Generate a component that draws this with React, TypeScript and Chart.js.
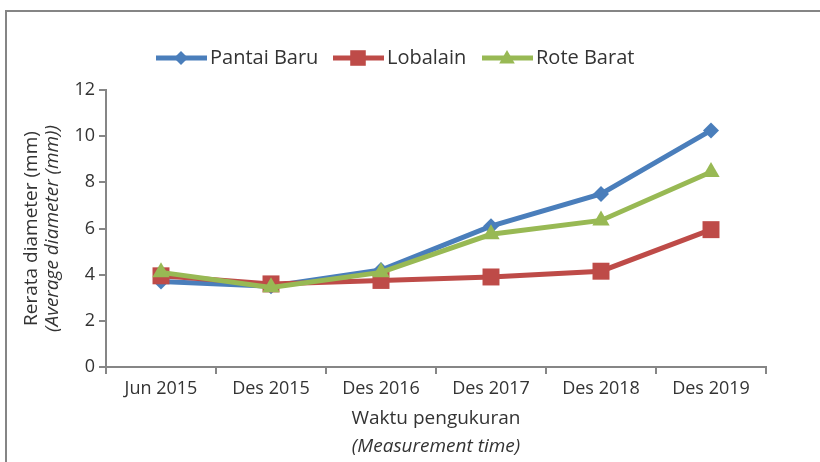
import React, { useEffect, useRef } from "react";
import { Chart, registerables } from "chart.js";

Chart.register(...registerables);

const categories = ["Jun 2015", "Des 2015", "Des 2016", "Des 2017", "Des 2018", "Des 2019"];
const pantaiBaru = [3.7, 3.5, 4.2, 6.1, 7.5, 10.25];
const lobalain = [3.95, 3.6, 3.75, 3.9, 4.15, 5.95];
const roteBarat = [4.1, 3.45, 4.1, 5.75, 6.35, 8.45];
const seriesNames = ["Pantai Baru", "Lobalain", "Rote Barat"];
const yTitle = ["Rerata diameter (mm)", "(Average diameter (mm))"];
const xTitle = ["Waktu pengukuran", "(Measurement time)"];

const BLUE = "#4A7EBB";
const RED = "#BE4B48";
const GREEN = "#98B954";
const TEXT = "#333333";
const AXIS = "#868686";
const FONT = "'Open Sans', Lato, sans-serif";

function drawMarker(ctx: CanvasRenderingContext2D, style: string, x: number, y: number, r: number, color: string) {
  ctx.save();
  ctx.fillStyle = color;
  ctx.beginPath();
  if (style === "rectRot") {
    ctx.moveTo(x, y - r);
    ctx.lineTo(x + r, y);
    ctx.lineTo(x, y + r);
    ctx.lineTo(x - r, y);
  } else if (style === "rect") {
    const s = Math.SQRT1_2 * r;
    ctx.rect(x - s, y - s, 2 * s, 2 * s);
  } else {
    const h = r;
    ctx.moveTo(x, y - h);
    ctx.lineTo(x + h * Math.sin(Math.PI / 3), y + h / 2);
    ctx.lineTo(x - h * Math.sin(Math.PI / 3), y + h / 2);
  }
  ctx.closePath();
  ctx.fill();
  ctx.restore();
}

const decorPlugin = {
  id: "decor",
  afterDraw(chart: any) {
    const ctx: CanvasRenderingContext2D = chart.ctx;
    const area = chart.chartArea;
    ctx.save();
    // Legend
    const items = [
      { name: seriesNames[0], color: BLUE, style: "rectRot", r: 7, x: 156 },
      { name: seriesNames[1], color: RED, style: "rect", r: 11, x: 333 },
      { name: seriesNames[2], color: GREEN, style: "triangle", r: 9, x: 482 },
    ];
    const ly = 58;
    ctx.font = `20px ${FONT}`;
    ctx.textBaseline = "middle";
    ctx.textAlign = "left";
    for (const it of items) {
      ctx.strokeStyle = it.color;
      ctx.lineWidth = 5;
      ctx.beginPath();
      ctx.moveTo(it.x, ly);
      ctx.lineTo(it.x + 51, ly);
      ctx.stroke();
      drawMarker(ctx, it.style, it.x + 25, ly + (it.style === "triangle" ? 1 : 0), it.r, it.color);
      ctx.fillStyle = TEXT;
      ctx.fillText(it.name, it.x + 54, ly);
    }
    // Y title
    const cy = (area.top + area.bottom) / 2;
    ctx.save();
    ctx.translate(32, cy);
    ctx.rotate(-Math.PI / 2);
    ctx.textAlign = "center";
    ctx.fillStyle = TEXT;
    ctx.font = `19px ${FONT}`;
    ctx.fillText(yTitle[0], 0, 0);
    ctx.font = `italic 19px ${FONT}`;
    ctx.fillText(yTitle[1], 0, 21);
    ctx.restore();
    // X title
    const cx = (area.left + area.right) / 2;
    ctx.textAlign = "center";
    ctx.fillStyle = TEXT;
    ctx.font = `19px ${FONT}`;
    ctx.fillText(xTitle[0], cx, 419);
    ctx.font = `italic 19px ${FONT}`;
    ctx.fillText(xTitle[1], cx, 447);
    ctx.restore();
  },
};

export default function App() {
  const ref = useRef<HTMLCanvasElement>(null);
  useEffect(() => {
    if (!ref.current) return;
    const mk = (label: string, data: number[], color: string, pointStyle: string, radius: number, order: number) => ({
      label,
      data,
      borderColor: color,
      backgroundColor: color,
      borderWidth: 5,
      pointStyle,
      pointRadius: radius,
      pointBorderWidth: 0,
      pointBackgroundColor: color,
      tension: 0,
      order,
    });
    const chart = new Chart(ref.current, {
      type: "line",
      data: {
        labels: categories,
        datasets: [
          mk(seriesNames[0], pantaiBaru, BLUE, "rectRot", 8, 2),
          mk(seriesNames[1], lobalain, RED, "rect", 12, 1),
          mk(seriesNames[2], roteBarat, GREEN, "triangle", 10, 0),
        ] as any,
      },
      options: {
        responsive: false,
        animation: false,
        layout: { padding: { left: 0, top: 90, right: 54, bottom: 0 } },
        plugins: { legend: { display: false }, tooltip: { enabled: false }, title: { display: false } },
        scales: {
          x: {
            type: "category",
            offset: true,
            grid: { display: true, drawOnChartArea: false, offset: true, color: AXIS, tickLength: 7, lineWidth: 2 },
            border: { display: true, color: AXIS, width: 2 },
            ticks: { color: TEXT, font: { family: FONT, size: 18 }, padding: 4, maxRotation: 0, autoSkip: false },
            afterFit: (s: any) => { s.height = 95; },
          },
          y: {
            min: 0,
            max: 12,
            grid: { display: true, drawOnChartArea: false, color: AXIS, tickLength: 7, lineWidth: 2 },
            border: { display: true, color: AXIS, width: 2 },
            ticks: { stepSize: 2, color: TEXT, font: { family: FONT, size: 18 }, padding: 4 },
            afterFit: (s: any) => { s.width = 106; },
          },
        },
      } as any,
      plugins: [decorPlugin],
    });
    return () => chart.destroy();
  }, []);
  return (
    <div style={{ position: "fixed", left: 0, top: 0, width: 820, height: 462, background: "#fff", overflow: "hidden" }}>
      <div style={{ position: "absolute", left: 5, top: 10, width: 830, height: 480, border: "2px solid #858585", boxSizing: "border-box" }} />
      <canvas ref={ref} width={820} height={462} style={{ position: "absolute", left: 0, top: 0, width: 820, height: 462 }} />
    </div>
  );
}
